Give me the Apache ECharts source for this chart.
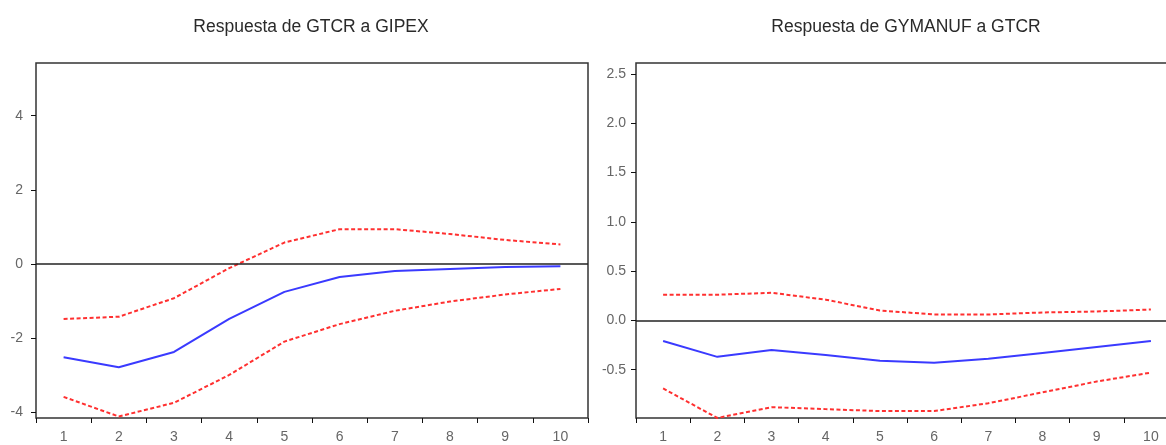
<!DOCTYPE html>
<html>
<head>
<meta charset="utf-8">
<script src="https://cdn.jsdelivr.net/npm/echarts@6/dist/echarts.min.js"></script>
<style>html,body{margin:0;padding:0;background:#fff;}#c{width:1166px;height:445px;}</style>
</head>
<body>
<div id="c"></div>
<script>
const categories = ['1','2','3','4','5','6','7','8','9','10'];
// Panel 1: Respuesta de GTCR a GIPEX
const gtcrResp  = [-2.51, -2.78, -2.37, -1.48, -0.75, -0.35, -0.19, -0.13, -0.08, -0.06];
const gtcrUpper = [-1.48, -1.42, -0.92, -0.11, 0.58, 0.94, 0.94, 0.81, 0.65, 0.53];
const gtcrLower = [-3.58, -4.11, -3.74, -2.99, -2.09, -1.62, -1.26, -1.01, -0.82, -0.67];
const ticksLeft = [-4, -2, 0, 2, 4];
// Panel 2: Respuesta de GYMANUF a GTCR
const gymResp  = [-0.21, -0.37, -0.30, -0.35, -0.41, -0.43, -0.39, -0.33, -0.27, -0.21];
const gymUpper = [0.26, 0.26, 0.28, 0.21, 0.10, 0.06, 0.06, 0.08, 0.09, 0.11];
const gymLower = [-0.69, -0.99, -0.88, -0.90, -0.92, -0.92, -0.84, -0.73, -0.62, -0.53];
const ticksRight = [-0.5, 0.0, 0.5, 1.0, 1.5, 2.0, 2.5];

const font = 'Liberation Sans, Arial, sans-serif';
const blue = '#3a3aff', red = '#ff3030';

function xAxis(gi){
  return {
    type:'category', gridIndex:gi, data:categories, boundaryGap:true, position:'bottom',
    axisLine:{show:false, onZero:false},
    axisTick:{show:true, length:5, lineStyle:{color:'#111', width:1}},
    axisLabel:{color:'#666', fontSize:14, fontFamily:font, margin:12},
    splitLine:{show:false}
  };
}
function yAxis(gi, min, max, ticks, fmt, margin){
  return {
    type:'value', gridIndex:gi, min:min, max:max,
    axisLine:{show:false, onZero:false},
    axisTick:{show:true, length:5, lineStyle:{color:'#111', width:1}, customValues:ticks},
    axisLabel:{color:'#666', fontSize:14, fontFamily:font, margin:margin, customValues:ticks, formatter:fmt},
    splitLine:{show:false}
  };
}
function line(gi, data, color, dashed, zero){
  const s = {
    type:'line', xAxisIndex:gi, yAxisIndex:gi, data:data, symbol:'none', smooth:false,
    lineStyle:{color:color, width:2, type: dashed ? [4,2.5] : 'solid'}, z: dashed ? 3 : 4,
    silent:true, animation:false
  };
  if (zero) {
    s.markLine = {silent:true, symbol:'none', label:{show:false},
      lineStyle:{color:'#222', width:1.5, type:'solid'}, data:[{yAxis:0}], animation:false};
  }
  return s;
}

const chart = echarts.init(document.getElementById('c'));
chart.setOption({
  animation:false,
  backgroundColor:'#fff',
  grid:[
    {left:36, top:63, width:552, height:355, show:true, borderColor:'#333', borderWidth:1.5, backgroundColor:'transparent', outerBoundsMode:'none', containLabel:false},
    {left:636, top:63, width:542, height:355, show:true, borderColor:'#333', borderWidth:1.5, backgroundColor:'transparent', outerBoundsMode:'none', containLabel:false}
  ],
  xAxis:[xAxis(0), xAxis(1)],
  yAxis:[
    yAxis(0, -4.15, 5.42, ticksLeft, v => String(v), 13),
    yAxis(1, -0.99, 2.61, ticksRight, v => v.toFixed(1), 10)
  ],
  graphic:[
    {type:'text', x:311, y:27, style:{text:'Respuesta de GTCR a GIPEX', fill:'#2a2a2a', font:'17.5px ' + font, textAlign:'center', textVerticalAlign:'middle'}},
    {type:'text', x:906, y:27, style:{text:'Respuesta de GYMANUF a GTCR', fill:'#2a2a2a', font:'17.5px ' + font, textAlign:'center', textVerticalAlign:'middle'}}
  ],
  series:[
    line(0, gtcrResp, blue, false, true),
    line(0, gtcrUpper, red, true),
    line(0, gtcrLower, red, true),
    line(1, gymResp, blue, false, true),
    line(1, gymUpper, red, true),
    line(1, gymLower, red, true)
  ]
});
</script>
</body>
</html>
